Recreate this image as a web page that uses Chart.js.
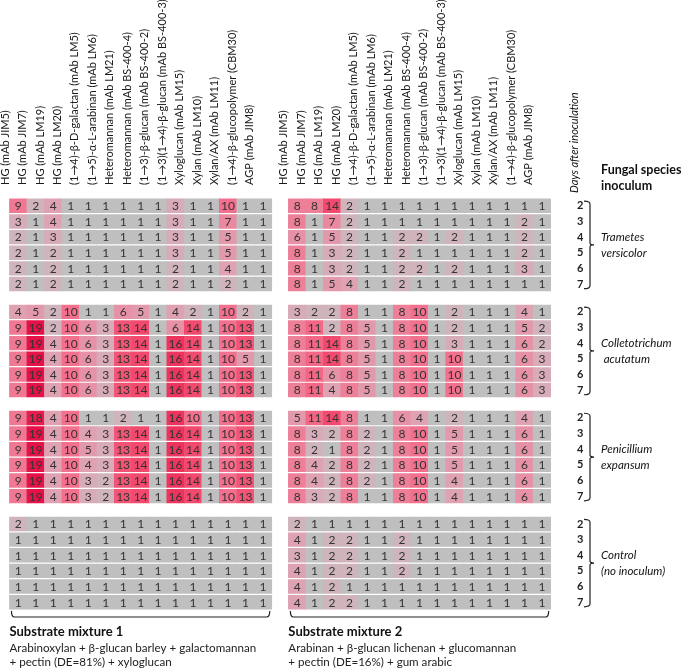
<!DOCTYPE html>
<html>
<head>
<meta charset="utf-8">
<script src="https://cdn.jsdelivr.net/npm/chart.js@4.4.1/dist/chart.umd.min.js"></script>
<style>
  html, body { margin: 0; padding: 0; background: #fff; }
  #wrap { position: relative; width: 683px; height: 668px; }
</style>
</head>
<body>
<div id="wrap"><canvas id="chart" width="683" height="668"></canvas></div>
<script>
const antibodies = [
  'HG (mAb JIM5)', 'HG (mAb JIM7)', 'HG (mAb LM19)', 'HG (mAb LM20)',
  '(1→4)-β-D-galactan (mAb LM5)', '(1→5)-α-L-arabinan (mAb LM6)',
  'Heteromannan (mAb LM21)', 'Heteromannan (mAb BS-400-4)',
  '(1→3)-β-glucan (mAb BS-400-2)', '(1→3)(1→4)-β-glucan (mAb BS-400-3)',
  'Xyloglucan (mAb LM15)', 'Xylan (mAb LM10)', 'Xylan/AX (mAb LM11)',
  '(1→4)-β-glucopolymer (CBM30)', 'AGP (mAb JIM8)'
];
const days = ['2', '3', '4', '5', '6', '7'];
const species = [
  ['Trametes', 'versicolor'],
  ['Colletotrichum', ' acutatum'],
  ['Penicillium', 'expansum'],
  ['Control', '(no inoculum)']
];
const mixtureTitles = ['Substrate mixture 1', 'Substrate mixture 2'];
const mixtureTexts = [
  ['Arabinoxylan + β-glucan barley + galactomannan', '+ pectin (DE=81%) + xyloglucan'],
  ['Arabinan + β-glucan lichenan + glucomannan', '+ pectin (DE=16%) + gum arabic']
];

// substrate mixture 1, rows = days 2..7
const mix1Trametes = [
  [9, 2, 4, 1, 1, 1, 1, 1, 1, 3, 1, 1, 10, 1, 1],
  [3, 1, 4, 1, 1, 1, 1, 1, 1, 3, 1, 1, 7, 1, 1],
  [2, 1, 3, 1, 1, 1, 1, 1, 1, 3, 1, 1, 5, 1, 1],
  [2, 1, 2, 1, 1, 1, 1, 1, 1, 3, 1, 1, 5, 1, 1],
  [2, 1, 2, 1, 1, 1, 1, 1, 1, 2, 1, 1, 4, 1, 1],
  [2, 1, 2, 1, 1, 1, 1, 1, 1, 2, 1, 1, 2, 1, 1]
];
const mix1Colleto = [
  [4, 5, 2, 10, 1, 1, 6, 5, 1, 4, 2, 1, 10, 2, 1],
  [9, 19, 2, 10, 6, 3, 13, 14, 1, 6, 14, 1, 10, 13, 1],
  [9, 19, 4, 10, 6, 3, 13, 14, 1, 16, 14, 1, 10, 13, 1],
  [9, 19, 4, 10, 6, 3, 13, 14, 1, 16, 14, 1, 10, 5, 1],
  [9, 19, 4, 10, 6, 3, 13, 14, 1, 16, 14, 1, 10, 13, 1],
  [9, 19, 4, 10, 6, 3, 13, 14, 1, 16, 14, 1, 10, 13, 1]
];
const mix1Penicil = [
  [9, 18, 4, 10, 1, 1, 2, 1, 1, 16, 10, 1, 10, 13, 1],
  [9, 19, 4, 10, 4, 3, 13, 14, 1, 16, 14, 1, 10, 13, 1],
  [9, 19, 4, 10, 5, 3, 13, 14, 1, 16, 14, 1, 10, 13, 1],
  [9, 19, 4, 10, 4, 3, 13, 14, 1, 16, 14, 1, 10, 13, 1],
  [9, 19, 4, 10, 3, 2, 13, 14, 1, 16, 14, 1, 10, 13, 1],
  [9, 19, 4, 10, 3, 2, 13, 14, 1, 16, 14, 1, 10, 13, 1]
];
const mix1Control = [
  [2, 1, 1, 1, 1, 1, 1, 1, 1, 1, 1, 1, 1, 1, 1],
  [1, 1, 1, 1, 1, 1, 1, 1, 1, 1, 1, 1, 1, 1, 1],
  [1, 1, 1, 1, 1, 1, 1, 1, 1, 1, 1, 1, 1, 1, 1],
  [1, 1, 1, 1, 1, 1, 1, 1, 1, 1, 1, 1, 1, 1, 1],
  [1, 1, 1, 1, 1, 1, 1, 1, 1, 1, 1, 1, 1, 1, 1],
  [1, 1, 1, 1, 1, 1, 1, 1, 1, 1, 1, 1, 1, 1, 1]
];

// substrate mixture 2
const mix2Trametes = [
  [8, 8, 14, 2, 1, 1, 1, 1, 1, 1, 1, 1, 1, 1, 1],
  [8, 1, 7, 2, 1, 1, 1, 1, 1, 1, 1, 1, 1, 2, 1],
  [6, 1, 5, 2, 1, 1, 2, 2, 1, 2, 1, 1, 1, 2, 1],
  [8, 1, 3, 2, 1, 1, 2, 1, 1, 1, 1, 1, 1, 2, 1],
  [8, 1, 3, 2, 1, 1, 2, 2, 1, 2, 1, 1, 1, 3, 1],
  [8, 1, 5, 4, 1, 1, 2, 1, 1, 1, 1, 1, 1, 1, 1]
];
const mix2Colleto = [
  [3, 2, 2, 8, 1, 1, 8, 10, 1, 2, 1, 1, 1, 4, 1],
  [8, 11, 2, 8, 5, 1, 8, 10, 1, 2, 1, 1, 1, 5, 2],
  [8, 11, 14, 8, 5, 1, 8, 10, 1, 3, 1, 1, 1, 6, 2],
  [8, 11, 14, 8, 5, 1, 8, 10, 1, 10, 1, 1, 1, 6, 3],
  [8, 11, 6, 8, 5, 1, 8, 10, 1, 10, 1, 1, 1, 6, 3],
  [8, 11, 4, 8, 5, 1, 8, 10, 1, 10, 1, 1, 1, 6, 3]
];
const mix2Penicil = [
  [5, 11, 14, 8, 1, 1, 6, 4, 1, 2, 1, 1, 1, 4, 1],
  [8, 3, 2, 8, 2, 1, 8, 10, 1, 5, 1, 1, 1, 6, 1],
  [8, 2, 1, 8, 2, 1, 8, 10, 1, 5, 1, 1, 1, 6, 1],
  [8, 4, 2, 8, 2, 1, 8, 10, 1, 5, 1, 1, 1, 6, 1],
  [8, 4, 2, 8, 2, 1, 8, 10, 1, 4, 1, 1, 1, 6, 1],
  [8, 3, 2, 8, 1, 1, 8, 10, 1, 4, 1, 1, 1, 6, 1]
];
const mix2Control = [
  [2, 1, 1, 1, 1, 1, 1, 1, 1, 1, 1, 1, 1, 1, 1],
  [4, 1, 2, 2, 1, 1, 2, 1, 1, 1, 1, 1, 1, 1, 1],
  [3, 1, 2, 2, 1, 1, 2, 1, 1, 1, 1, 1, 1, 1, 1],
  [4, 1, 2, 2, 1, 1, 2, 1, 1, 1, 1, 1, 1, 1, 1],
  [4, 1, 2, 1, 1, 1, 1, 1, 1, 1, 1, 1, 1, 1, 1],
  [4, 1, 2, 2, 1, 1, 1, 1, 1, 1, 1, 1, 1, 1, 1]
];

const panels = [
  [mix1Trametes, mix1Colleto, mix1Penicil, mix1Control],
  [mix2Trametes, mix2Colleto, mix2Penicil, mix2Control]
];

const FONT = 'Lato, "DejaVu Sans", sans-serif';
const GROUP_GAP = 0.78;    // empty space between species blocks (row units)
const PANEL_SHIFT = 15.95; // x offset of the second panel (column units)
const rowStart = (g, r) => g * (6 + GROUP_GAP) + r;

// grey for 1, through pink, to crimson for the highest counts
const stops = [
  [1, [192, 191, 192]], [2, [207, 180, 187]], [4, [222, 162, 178]],
  [8, [237, 127, 152]], [10, [242, 112, 141]], [14, [242, 74, 110]], [19, [228, 18, 72]]
];
const cellColor = (v) => {
  for (let i = 1; i < stops.length; i++) {
    const [v0, c0] = stops[i - 1];
    const [v1, c1] = stops[i];
    if (v <= v1) {
      const t = Math.max(0, (v - v0) / (v1 - v0));
      const c = c0.map((k, n) => Math.round(k + (c1[n] - k) * t));
      return `rgb(${c.join(',')})`;
    }
  }
  return 'rgb(228,18,72)';
};

const datasets = [];
panels.forEach((groups, p) => {
  groups.forEach((rows, g) => {
    rows.forEach((vals, r) => {
      const y0 = rowStart(g, r);
      datasets.push({
        data: vals.map((v, j) => ({ x: p * PANEL_SHIFT + j, y: [y0 + 0.06, y0 + 0.94], v })),
        backgroundColor: vals.map(cellColor),
        borderWidth: 0,
        grouped: false,
        barPercentage: 1,
        categoryPercentage: 1
      });
    });
  });
});

const xTicks = [];
for (let p = 0; p < 2; p++) antibodies.forEach((a, j) => xTicks.push(p * PANEL_SHIFT + j));
const yTicks = [];
for (let g = 0; g < 4; g++) days.forEach((d, r) => yTicks.push(rowStart(g, r) + 0.5));

const cellText = {
  id: 'cellText',
  afterDatasetsDraw(chart) {
    const { ctx } = chart;
    ctx.save();
    ctx.font = `12px ${FONT}`;
    ctx.fillStyle = '#333';
    ctx.textAlign = 'center';
    ctx.textBaseline = 'middle';
    chart.data.datasets.forEach((ds, i) => {
      chart.getDatasetMeta(i).data.forEach((el, j) => {
        const c = el.getCenterPoint();
        ctx.fillText(ds.data[j].v, c.x, c.y + 0.5);
      });
    });
    ctx.restore();
  }
};

const annotations = {
  id: 'annotations',
  afterDraw(chart) {
    const { ctx, chartArea: a, scales: { x, y } } = chart;
    const textX = a.right + 41;
    ctx.save();
    ctx.fillStyle = '#111';
    ctx.strokeStyle = '#222';
    ctx.lineWidth = 1.2;

    // rotated header over the day column
    ctx.save();
    ctx.translate(a.right + 14, a.top - 5);
    ctx.rotate(-Math.PI / 2);
    ctx.font = `italic 11px ${FONT}`;
    ctx.textAlign = 'left';
    ctx.textBaseline = 'middle';
    ctx.fillText('Days after inoculation', 0, 0);
    ctx.restore();

    ctx.font = `bold 12.5px ${FONT}`;
    ctx.textAlign = 'left';
    ctx.textBaseline = 'middle';
    ctx.fillText('Fungal species', textX, a.top - 28);
    ctx.fillText('inoculum', textX, a.top - 12);

    // braces + species names
    species.forEach((names, g) => {
      const top = y.getPixelForValue(rowStart(g, 0) + 0.2);
      const bot = y.getPixelForValue(rowStart(g, 5) + 0.8);
      const mid = (top + bot) / 2;
      const x0 = a.right + 24, x1 = a.right + 30;
      ctx.beginPath();
      ctx.moveTo(x0, top);
      ctx.quadraticCurveTo(x1, top, x1, top + 3);
      ctx.lineTo(x1, mid - 2);
      ctx.quadraticCurveTo(x1, mid, x1 + 4, mid);
      ctx.quadraticCurveTo(x1, mid, x1, mid + 2);
      ctx.lineTo(x1, bot - 3);
      ctx.quadraticCurveTo(x1, bot, x0, bot);
      ctx.stroke();
      ctx.font = `italic 11.5px ${FONT}`;
      ctx.fillText(names[0], textX, mid - 8);
      ctx.fillText(names[1], textX, mid + 8);
    });

    // panel brackets and substrate descriptions
    for (let p = 0; p < 2; p++) {
      const xl = x.getPixelForValue(p * PANEL_SHIFT - 0.5) + 2;
      const xr = x.getPixelForValue(p * PANEL_SHIFT + 14.5) - 2;
      const yb = a.bottom + 7;
      ctx.beginPath();
      ctx.moveTo(xl, yb - 6);
      ctx.quadraticCurveTo(xl, yb, xl + 3, yb);
      ctx.lineTo(xr - 3, yb);
      ctx.quadraticCurveTo(xr, yb, xr, yb - 6);
      ctx.stroke();
      ctx.font = `bold 13px ${FONT}`;
      ctx.fillText(mixtureTitles[p], xl - 2, a.bottom + 22);
      ctx.font = `11.6px ${FONT}`;
      ctx.fillStyle = '#222';
      ctx.fillText(mixtureTexts[p][0], xl - 2, a.bottom + 38);
      ctx.fillText(mixtureTexts[p][1], xl - 2, a.bottom + 52);
      ctx.fillStyle = '#111';
    }
    ctx.restore();
  }
};

new Chart(document.getElementById('chart'), {
  type: 'bar',
  data: { datasets },
  options: {
    responsive: false,
    animation: false,
    devicePixelRatio: 1,
    layout: { padding: { left: 0, right: 99, top: 0, bottom: 58 } },
    plugins: { legend: { display: false }, tooltip: { enabled: false } },
    scales: {
      x: {
        type: 'linear',
        position: 'top',
        min: -0.5,
        max: PANEL_SHIFT + 14.5,
        grid: { display: false },
        border: { display: false },
        afterBuildTicks: (s) => { s.ticks = xTicks.map((value) => ({ value })); },
        afterFit: (s) => { s.height = 198; },
        ticks: {
          autoSkip: false,
          minRotation: 90,
          maxRotation: 90,
          padding: 5,
          color: '#1a1a1a',
          font: { family: FONT, size: 11 },
          callback: (v, i) => antibodies[i % antibodies.length]
        }
      },
      y: {
        type: 'linear',
        position: 'right',
        reverse: true,
        min: 0,
        max: 4 * 6 + 3 * GROUP_GAP,
        grid: { display: false },
        border: { display: false },
        afterBuildTicks: (s) => { s.ticks = yTicks.map((value) => ({ value })); },
        afterFit: (s) => { s.width = 24; },
        ticks: {
          autoSkip: false,
          padding: 9,
          color: '#222',
          font: { family: FONT, size: 11, weight: 'bold' },
          callback: (v, i) => days[i % days.length]
        }
      }
    }
  },
  plugins: [cellText, annotations]
});
</script>
</body>
</html>
